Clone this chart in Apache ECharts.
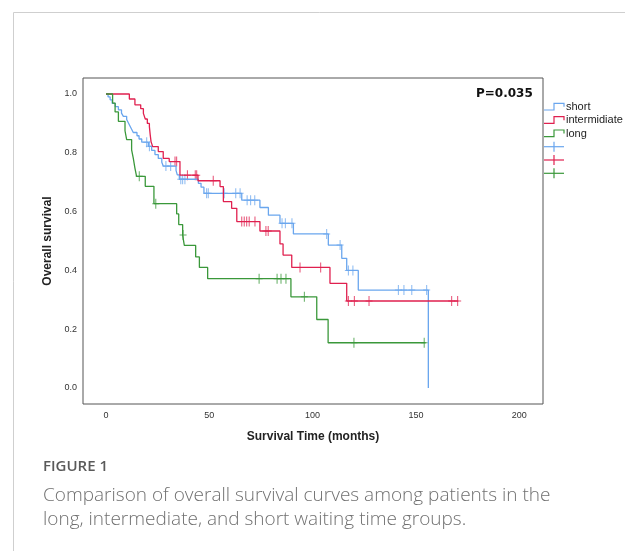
<!DOCTYPE html>
<html>
<head>
<meta charset="utf-8">
<script src="https://cdn.jsdelivr.net/npm/echarts@6/dist/echarts.min.js"></script>
<style>
html,body{margin:0;padding:0;background:#fff;}
#chart{width:625px;height:551px;}
</style>
</head>
<body>
<div id="chart"></div>
<script>
// ---- data (months, survival) ----
const xTicks = [0, 50, 100, 150, 200];
const yTicks = [0.0, 0.2, 0.4, 0.6, 0.8, 1.0];

const shortTime = [0, 1.0, 2.0, 3.0, 4.5, 6.0, 7.5, 8.4, 10.0, 10.8, 11.6, 12.4, 13.2, 15.0, 16.0, 17.3, 20.5, 22.1, 23.7, 25.3, 27.0, 27.7, 33.9, 34.5, 35.5, 44.7, 46.0, 47.4, 65.7, 74.5, 78.6, 84.2, 90.7, 107.6, 114.1, 116.5, 122.1, 156.0];
const shortSurv = [1.0, 0.99, 0.98, 0.968, 0.957, 0.946, 0.935, 0.924, 0.913, 0.902, 0.891, 0.88, 0.869, 0.858, 0.847, 0.836, 0.822, 0.808, 0.794, 0.781, 0.768, 0.755, 0.74, 0.725, 0.71, 0.696, 0.683, 0.662, 0.639, 0.614, 0.588, 0.56, 0.524, 0.486, 0.441, 0.4, 0.333, 0.0];
const shortCensorTime = [19.7, 21.0, 29.0, 31.3, 36.2, 37.1, 38.2, 48.7, 49.5, 57.2, 62.8, 64.9, 68.3, 70.0, 72.0, 85.2, 86.8, 90.0, 106.8, 113.3, 117.3, 119.5, 141.5, 144.2, 148.0, 155.2];
const shortCensorSurv = [0.836, 0.822, 0.755, 0.755, 0.71, 0.71, 0.71, 0.662, 0.662, 0.662, 0.662, 0.662, 0.639, 0.639, 0.639, 0.56, 0.56, 0.56, 0.524, 0.486, 0.4, 0.4, 0.333, 0.333, 0.333, 0.333];

const intTime = [0, 11.3, 14.0, 16.8, 18.1, 19.0, 20.0, 21.0, 21.4, 21.8, 22.6, 25.3, 27.7, 30.6, 35.8, 44.5, 55.2, 56.8, 60.8, 63.3, 74.5, 84.2, 85.7, 89.9, 108.4, 116.5, 170.5];
const intSurv = [1.0, 0.983, 0.963, 0.95, 0.934, 0.915, 0.9, 0.889, 0.861, 0.838, 0.821, 0.804, 0.781, 0.77, 0.724, 0.705, 0.685, 0.634, 0.611, 0.566, 0.534, 0.49, 0.452, 0.41, 0.356, 0.296, 0.296];
const intCensorTime = [33.4, 34.2, 39.4, 43.2, 43.9, 51.9, 65.7, 66.9, 68.1, 69.3, 72.1, 77.4, 78.5, 93.9, 103.9, 117.3, 120.2, 127.3, 167.3, 170.2];
const intCensorSurv = [0.77, 0.77, 0.724, 0.724, 0.724, 0.705, 0.566, 0.566, 0.566, 0.566, 0.566, 0.534, 0.534, 0.41, 0.41, 0.296, 0.296, 0.296, 0.296, 0.296];

const longTime = [0, 3.2, 4.4, 6.0, 9.2, 10.0, 12.4, 13.2, 14.0, 14.8, 19.0, 23.2, 34.2, 35.2, 37.1, 37.9, 43.4, 45.2, 49.2, 89.5, 102.0, 107.5, 154.7];
const longSurv = [1.0, 0.969, 0.939, 0.907, 0.875, 0.845, 0.81, 0.782, 0.748, 0.72, 0.686, 0.627, 0.592, 0.556, 0.52, 0.485, 0.446, 0.41, 0.372, 0.31, 0.233, 0.154, 0.154];
const longCensorTime = [16.1, 24.1, 37.3, 74.1, 82.8, 84.7, 87.1, 96.0, 120.0, 154.0];
const longCensorSurv = [0.72, 0.627, 0.52, 0.372, 0.372, 0.372, 0.372, 0.31, 0.154, 0.154];

const groupNames = ['short', 'intermidiate', 'long'];
const colors = ['#6aa6ee', '#e0204f', '#3a983a'];

// ---- build ----
const zip = (a, b) => a.map((v, i) => [v, b[i]]);
const plusPath = 'path://M3,0H4V10H3Z M0,4.5H7V5.5H0Z';

function kmLine(name, t, s, color) {
  return {
    name, type: 'line', step: 'end', data: zip(t, s), symbol: 'none',
    lineStyle: {color, width: 1.3}, itemStyle: {color}, silent: true, animation: false
  };
}
function censor(name, t, s, color) {
  return {
    name: name + ' censored', type: 'scatter', data: zip(t, s), symbol: plusPath,
    symbolSize: [7, 10], itemStyle: {color}, silent: true, animation: false
  };
}

const chart = echarts.init(document.getElementById('chart'), null, {renderer: 'canvas'});

const legendGraphics = [];
const legTop = [103.3, 116.7, 130];
groupNames.forEach((n, i) => {
  const hi = legTop[i], lo = hi + 6.7;
  legendGraphics.push({
    type: 'polyline', silent: true,
    shape: {points: [[544, lo], [554, lo], [554, hi], [564, hi], [564, hi + 3.5]]},
    style: {stroke: colors[i], lineWidth: 1.2, fill: null}
  });
  legendGraphics.push({
    type: 'text', silent: true, x: 566, y: hi + 3.5,
    style: {text: n, fill: '#222', font: '11px Arial, "Liberation Sans"', verticalAlign: 'middle'}
  });
});
[146.7, 160, 173.3].forEach((y, i) => {
  legendGraphics.push({
    type: 'polyline', silent: true,
    shape: {points: [[544, y], [564, y]]},
    style: {stroke: colors[i], lineWidth: 1.2, fill: null}
  });
  legendGraphics.push({
    type: 'polyline', silent: true,
    shape: {points: [[554, y - 5], [554, y + 5]]},
    style: {stroke: colors[i], lineWidth: 1.2, fill: null}
  });
});

const option = {
  backgroundColor: '#fff',
  animation: false,
  grid: {left: 83, top: 78, width: 460, height: 326, show: true, borderColor: '#555', borderWidth: 1, backgroundColor: 'transparent'},
  xAxis: {
    type: 'value', min: -11.13, max: 211.5,
    name: 'Survival Time (months)', nameLocation: 'middle', nameGap: 27,
    nameTextStyle: {fontWeight: 'bold', fontSize: 12, color: '#222', fontFamily: 'Arial'},
    axisLine: {show: false}, axisTick: {show: false}, splitLine: {show: false},
    axisLabel: {customValues: xTicks, fontSize: 9, color: '#333', fontFamily: 'Arial', margin: 7}
  },
  yAxis: {
    type: 'value', min: -0.0544, max: 1.0544,
    name: 'Overall survival', nameLocation: 'middle', nameGap: 27,
    nameTextStyle: {fontWeight: 'bold', fontSize: 12, color: '#222', fontFamily: 'Arial'},
    axisLine: {show: false}, axisTick: {show: false}, splitLine: {show: false},
    axisLabel: {customValues: yTicks, fontSize: 9, color: '#333', fontFamily: 'Arial', margin: 6,
      formatter: v => v.toFixed(1)}
  },
  series: [
    kmLine(groupNames[0], shortTime, shortSurv, colors[0]),
    kmLine(groupNames[1], intTime, intSurv, colors[1]),
    kmLine(groupNames[2], longTime, longSurv, colors[2]),
    censor(groupNames[0], shortCensorTime, shortCensorSurv, colors[0]),
    censor(groupNames[1], intCensorTime, intCensorSurv, colors[1]),
    censor(groupNames[2], longCensorTime, longCensorSurv, colors[2])
  ],
  graphic: [
    {type: 'polyline', silent: true, shape: {points: [[13.5, 551], [13.5, 12.5], [625, 12.5]]},
      style: {stroke: '#cfcfcf', lineWidth: 1, fill: null}},
    {type: 'text', silent: true, x: 476, y: 94,
      style: {text: 'P=0.035', fill: '#111', font: 'bold 12px "DejaVu Sans"', verticalAlign: 'middle'}},
    ...legendGraphics,
    {type: 'text', silent: true, x: 43, y: 467,
      style: {text: 'FIGURE 1', fill: '#5a5a5a', font: '600 15px "Open Sans"', verticalAlign: 'middle'}},
    {type: 'text', silent: true, x: 43, y: 496,
      style: {text: 'Comparison of overall survival curves among patients in the', fill: '#707070', font: '300 19px "Open Sans"', verticalAlign: 'middle'}},
    {type: 'text', silent: true, x: 43, y: 520,
      style: {text: 'long, intermediate, and short waiting time groups.', fill: '#707070', font: '300 19px "Open Sans"', verticalAlign: 'middle'}}
  ]
};
chart.setOption(option);
</script>
</body>
</html>
